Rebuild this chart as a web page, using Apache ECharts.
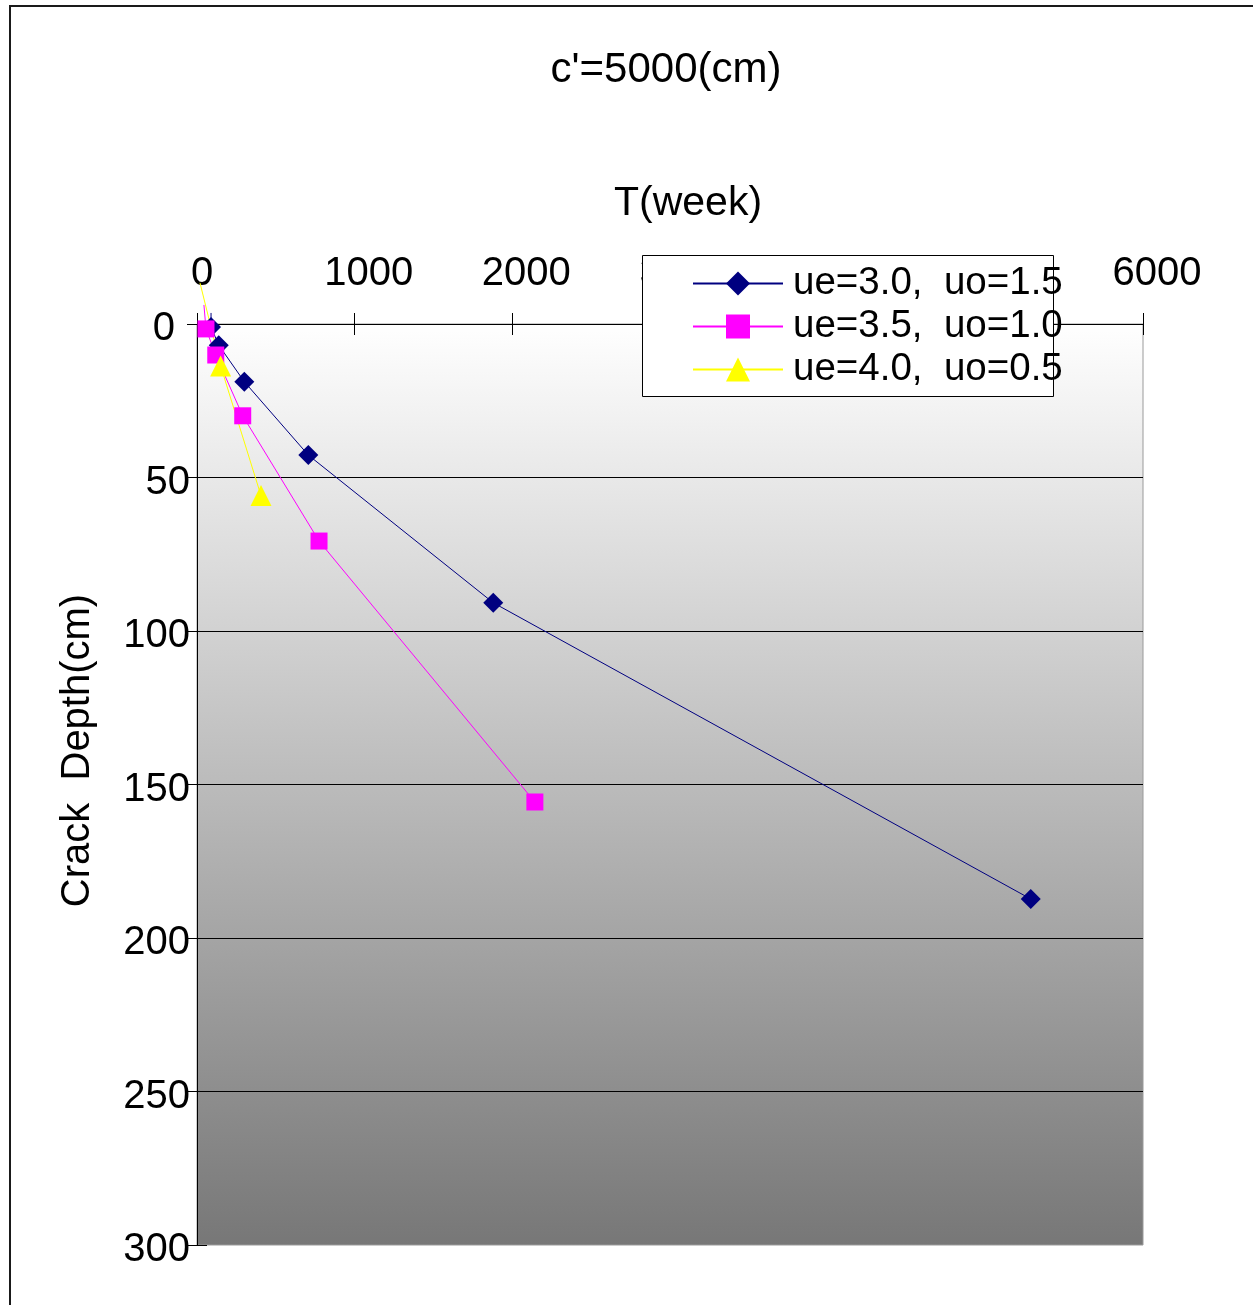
<!DOCTYPE html>
<html>
<head>
<meta charset="utf-8">
<script src="https://cdn.jsdelivr.net/npm/echarts@6/dist/echarts.min.js"></script>
<style>
  html, body { margin: 0; padding: 0; background: #ffffff; }
  #chart { width: 1253px; height: 1305px; }
</style>
</head>
<body>
<div id="chart"></div>
<script>
// Crack depth growth over time for three (ue, uo) parameter sets, c' = 5000 cm
const seriesNames = ['ue=3.0,  uo=1.5', 'ue=3.5,  uo=1.0', 'ue=4.0,  uo=0.5'];

const weeksA = [89, 89, 138, 300, 706, 1879, 5288];
const depthA = [-3.6, 1.0, 6.9, 18.8, 42.7, 90.8, 187.3];

const weeksB = [44, 57, 119, 290, 774, 2143];
const depthB = [-6.2, 1.6, 10.1, 29.9, 70.7, 155.7];

const weeksC = [19, 150, 406];
const depthC = [-13.4, 13.7, 55.9];

const weekTicks = [0, 1000, 2000, 3000, 4000, 5000, 6000];
const depthTicks = [0, 50, 100, 150, 200, 250, 300];

const FONT = "'Liberation Sans', Arial, sans-serif";
const TXT = 40;

// points above the depth origin are plotted as line ends only
function toPoints(weeks, depths) {
  return weeks.map((w, i) => depths[i] < 0
    ? { value: [w, depths[i]], symbol: 'none' }
    : { value: [w, depths[i]] });
}

const xMin = weekTicks[0], xMax = weekTicks[weekTicks.length - 1], xStep = weekTicks[1] - weekTicks[0];
const yMin = depthTicks[0], yMax = depthTicks[depthTicks.length - 1], yStep = depthTicks[1] - depthTicks[0];

const plotBox = { left: 197, top: 324, width: 946, height: 921 };

const chart = echarts.init(document.getElementById('chart'), null, { renderer: 'canvas' });

chart.setOption({
  animation: false,
  backgroundColor: '#ffffff',
  textStyle: { fontFamily: FONT },
  title: {
    text: "c'=5000(cm)",
    left: 666,
    top: 49,
    padding: 0,
    textAlign: 'center',
    textStyle: { fontFamily: FONT, fontSize: 42, fontWeight: 'normal', color: '#000000' }
  },
  graphic: [
    {
      type: 'rect',
      left: 9, top: 5,
      shape: { width: 1300, height: 1400 },
      style: { fill: 'transparent', stroke: '#1a1a1a', lineWidth: 2 },
      z: 1
    },
    {
      type: 'rect',
      left: 642, top: 255,
      shape: { width: 411, height: 141 },
      style: { fill: '#ffffff', stroke: '#000000', lineWidth: 1 },
      z: 10
    }
  ],
  legend: {
    orient: 'vertical',
    left: 642,
    top: 255,
    padding: [9, 0, 0, 50],
    itemWidth: 90,
    itemHeight: 30,
    itemGap: 4,
    z: 20,
    selectedMode: false,
    textStyle: { fontFamily: FONT, fontSize: 38.5, lineHeight: 38, color: '#000000', padding: [0, 0, 0, 5] },
    data: seriesNames
  },
  grid: [
    Object.assign({
      containLabel: false,
      outerBoundsMode: 'none',
      show: true,
      borderColor: '#9a9a9a',
      borderWidth: 1,
      backgroundColor: {
        type: 'linear', x: 0, y: 0, x2: 0, y2: 1,
        colorStops: [
          { offset: 0, color: '#ffffff' },
          { offset: 1, color: '#777777' }
        ]
      }
    }, plotBox),
    // same frame again, carrying only the inward halves of the cross ticks
    Object.assign({ containLabel: false, outerBoundsMode: 'none', show: false }, plotBox)
  ],
  xAxis: [
    {
      type: 'value',
      gridIndex: 0,
      position: 'top',
      min: xMin, max: xMax, interval: xStep,
      name: 'T(week)',
      nameLocation: 'middle',
      nameGap: 100,
      nameTextStyle: { fontFamily: FONT, fontSize: 41, color: '#000000', padding: [0, 0, 0, 36] },
      axisLine: { show: true, lineStyle: { color: '#000000', width: 1 } },
      axisTick: { show: true, inside: false, length: 11, lineStyle: { color: '#000000' } },
      axisLabel: {
        margin: 30,
        color: '#000000',
        fontFamily: FONT,
        fontSize: TXT,
        formatter: v => v === 0 ? '{z|0}' : '{n|' + v + '}',
        rich: {
          z: { fontFamily: FONT, fontSize: TXT, color: '#000000', padding: [0, 0, 0, 10] },
          n: { fontFamily: FONT, fontSize: TXT, color: '#000000', padding: [0, 0, 0, 28] }
        }
      },
      splitLine: { show: false }
    },
    {
      type: 'value',
      gridIndex: 1,
      position: 'top',
      min: xMin, max: xMax, interval: xStep,
      axisLine: { show: false },
      axisTick: { show: true, inside: true, length: 11, lineStyle: { color: '#000000' } },
      axisLabel: { show: false },
      splitLine: { show: false }
    }
  ],
  yAxis: [
    {
      type: 'value',
      gridIndex: 0,
      inverse: true,
      min: yMin, max: yMax, interval: yStep,
      name: 'Crack  Depth(cm)',
      nameLocation: 'middle',
      nameGap: 99,
      nameRotate: 90,
      nameTextStyle: { fontFamily: FONT, fontSize: 40, color: '#000000', padding: [0, 0, 0, 68] },
      axisLine: { show: true, lineStyle: { color: '#000000', width: 1 } },
      axisTick: { show: true, inside: false, length: 10, lineStyle: { color: '#000000' } },
      axisLabel: {
        margin: 7,
        color: '#000000',
        fontFamily: FONT,
        fontSize: TXT,
        formatter: v => v === 0 ? '{z|0}' : '{n|' + v + '}',
        rich: {
          z: { fontFamily: FONT, fontSize: TXT, color: '#000000', padding: [10, 15, 0, 0] },
          n: { fontFamily: FONT, fontSize: TXT, color: '#000000', padding: [10, 0, 0, 0] }
        }
      },
      splitLine: {
        show: true,
        showMinLine: false,
        showMaxLine: false,
        lineStyle: { color: '#000000', width: 1 }
      }
    },
    {
      type: 'value',
      gridIndex: 1,
      position: 'left',
      inverse: true,
      min: yMin, max: yMax, interval: yStep,
      axisLine: { show: false },
      axisTick: { show: true, inside: true, length: 10, lineStyle: { color: '#000000' } },
      axisLabel: { show: false },
      splitLine: { show: false }
    }
  ],
  series: [
    {
      name: seriesNames[0],
      type: 'line',
      xAxisIndex: 0, yAxisIndex: 0,
      clip: false,
      symbol: 'diamond',
      symbolSize: 20,
      lineStyle: { color: '#000080', width: 1 },
      itemStyle: { color: '#000080' },
      data: toPoints(weeksA, depthA)
    },
    {
      name: seriesNames[1],
      type: 'line',
      xAxisIndex: 0, yAxisIndex: 0,
      clip: false,
      symbol: 'rect',
      symbolSize: 17,
      lineStyle: { color: '#ff00ff', width: 1 },
      itemStyle: { color: '#ff00ff' },
      data: toPoints(weeksB, depthB)
    },
    {
      name: seriesNames[2],
      type: 'line',
      xAxisIndex: 0, yAxisIndex: 0,
      clip: false,
      symbol: 'triangle',
      symbolSize: 21,
      lineStyle: { color: '#ffff00', width: 1 },
      itemStyle: { color: '#ffff00' },
      data: toPoints(weeksC, depthC)
    }
  ]
});
</script>
</body>
</html>
